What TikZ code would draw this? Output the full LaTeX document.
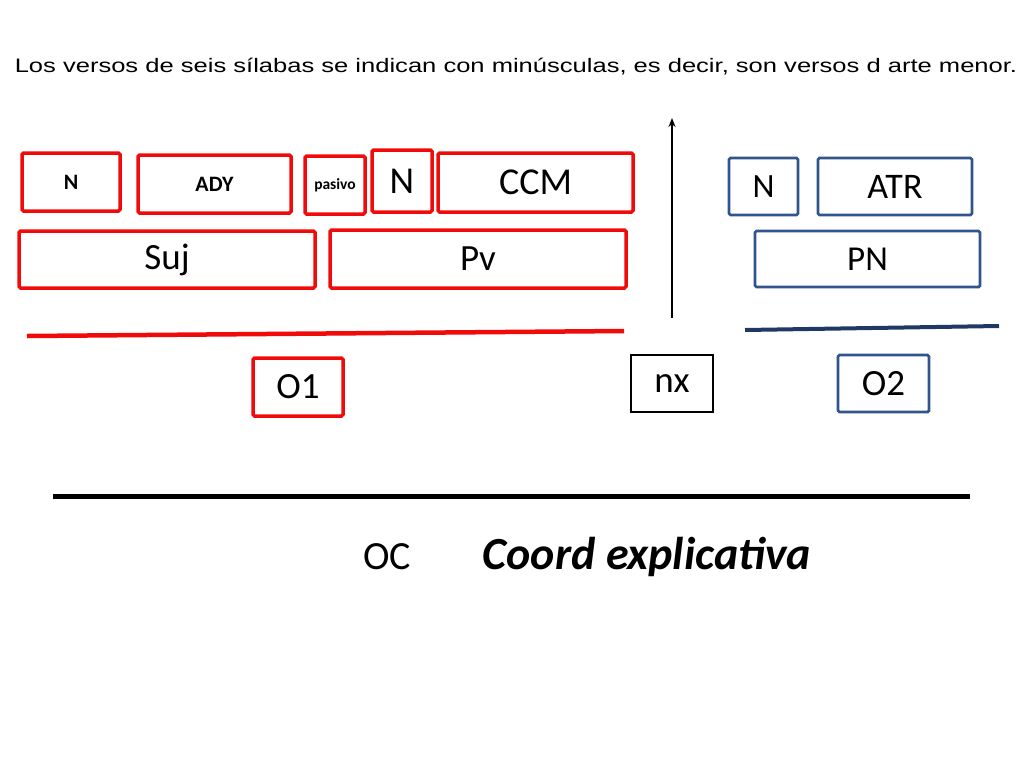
\documentclass[tikz,border=0pt]{standalone}
\usepackage{fontspec}
\usetikzlibrary{arrows.meta}
\setmainfont{Carlito}
\newfontfamily\arialf{Liberation Sans}
\definecolor{myred}{RGB}{240,10,10}
\definecolor{myblue}{RGB}{47,85,140}
\definecolor{navy}{RGB}{31,56,100}
\begin{document}
\begin{tikzpicture}[x=1pt,y=-1pt,
  rbox/.style={draw=myred,line width=3.5pt,rounded corners=1.5pt,inner sep=0pt},
  bbox/.style={draw=myblue,line width=2.8pt,rounded corners=1.5pt,inner sep=0pt},
  kbox/.style={draw=black,line width=2pt,inner sep=0pt},
  fs/.style={font=\fontsize{#1}{#1}\selectfont},
  bfs/.style={font=\bfseries\fontsize{#1}{#1}\selectfont}]
\useasboundingbox (0,0) rectangle (1024,768);
\node[font=\arialf\fontsize{19.5}{19.5}\selectfont] (title) at (516,67) {\scalebox{1.31}[1]{Los versos de seis sílabas se indican con minúsculas, es decir, son versos d arte menor.}};
% red boxes top row
\node[rbox,minimum width=98,minimum height=58,bfs=22] (n1) at (71,182) {N};
\node[rbox,minimum width=153,minimum height=58,bfs=22] (ady) at (214.5,184) {ADY};
\node[rbox,minimum width=60,minimum height=58,bfs=15.5] (pas) at (335,185) {pasivo};
\node[rbox,minimum width=60,minimum height=62,fs=38] (n2) at (402,181) {N};
\node[rbox,minimum width=195,minimum height=59,fs=38] (ccm) at (535.5,182.5) {CCM};
\node[rbox,minimum width=296,minimum height=57,fs=37] (suj) at (167,259.5) {Suj};
\node[rbox,minimum width=296,minimum height=58,fs=37] (pv) at (478,259) {Pv};
% blue boxes
\node[bbox,minimum width=69,minimum height=57,fs=34] (nb) at (763.5,186.5) {N};
\node[bbox,minimum width=154,minimum height=57,fs=36] (atr) at (895,186.5) {ATR};
\node[bbox,minimum width=225,minimum height=56,fs=35] (pn) at (867.5,259) {PN};
% arrow
\coordinate (a0) at (672,318);
\coordinate (a1) at (672,118);
\draw[line width=1.5pt,-{Stealth[length=9pt,width=7pt]}] (a0) -- (a1);
% lines
\coordinate (r0) at (27,336); \coordinate (r1) at (624,331);
\draw[myred,line width=4.5pt] (r0) -- (r1);
\coordinate (b0) at (745,330); \coordinate (b1) at (999,326);
\draw[navy,line width=4pt] (b0) -- (b1);
\coordinate (k0) at (53,496); \coordinate (k1) at (970,496);
\draw[black,line width=5pt] (k0) -- (k1);
% clause boxes
\node[rbox,minimum width=90,minimum height=58,fs=37] (o1) at (298,387) {O1};
\node[kbox,minimum width=82,minimum height=57,fs=37] (nx) at (672,383.5) {\raisebox{-2pt}{nx}};
\node[bbox,minimum width=91,minimum height=57,fs=37] (o2) at (883.5,383.5) {O2};
% bottom labels
\node[fs=40] (oc) at (387,557) {OC};
\node[font=\bfseries\itshape\fontsize{46}{46}\selectfont] (coord) at (647,557) {Coord explicativa};
\end{tikzpicture}
\end{document}
